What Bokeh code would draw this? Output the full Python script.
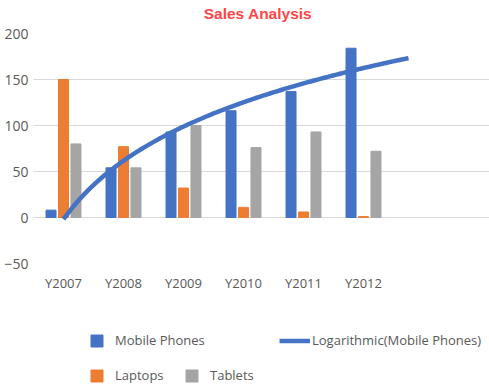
import numpy as np
from bokeh.plotting import figure
from bokeh.layouts import column
from bokeh.models import Legend, LegendItem, FixedTicker, Range1d, Label
from bokeh.embed import file_html
from bokeh.resources import INLINE

categories = ["Y2007", "Y2008", "Y2009", "Y2010", "Y2011", "Y2012"]
mobile_phones = [8, 54, 93, 116, 137, 184]
laptops = [150, 77, 32, 11, 6, 1]
tablets = [80, 54, 100, 76, 93, 72]
y_ticks = [-50, 0, 50, 100, 150, 200]

BLUE = "#4472C4"
ORANGE = "#ED7D31"
GRAY = "#A5A5A5"
TXT = "#595959"

LEFT = 33
FW = 489 - LEFT
TOP_PAD = 10
xs = np.arange(1, len(categories) + 1)


def bare_fig(h):
    f = figure(frame_width=FW, frame_height=h, output_backend="svg", toolbar_location=None,
               x_range=Range1d(LEFT, LEFT + FW), y_range=Range1d(0, h),
               x_axis_location=None, y_axis_location=None,
               min_border_left=LEFT, min_border_right=0, min_border_top=0,
               min_border_bottom=0)
    f.xgrid.visible = False
    f.ygrid.visible = False
    f.outline_line_color = None
    f.background_fill_color = "white"
    f.border_fill_color = "white"
    return f

# ---- title strip
H0 = 33 - TOP_PAD
p0 = bare_fig(H0)
p0.add_layout(Label(x=257.5, y=H0 - 12.5, text="Sales Analysis", text_align="center",
                    text_baseline="middle", text_color="#ff4545",
                    text_font="Liberation Sans", text_font_size="15.5px",
                    text_font_style="bold"))

# ---- main chart
p = figure(frame_width=FW, frame_height=230, output_backend="svg", toolbar_location=None,
           x_range=Range1d(0.5, 0.5 + FW / 60.0), y_range=Range1d(-50, 200),
           min_border_left=LEFT, min_border_right=0, min_border_top=TOP_PAD,
           min_border_bottom=40, title=None)
p.outline_line_color = None
p.background_fill_color = "white"
p.border_fill_color = "white"

bw = 0.1667
off = 0.208
p.vbar(x=xs - off, top=mobile_phones, width=bw, color=BLUE)
p.vbar(x=xs, top=laptops, width=bw, color=ORANGE)
p.vbar(x=xs + off, top=tablets, width=bw, color=GRAY)

# logarithmic trendline fitted to Mobile Phones (forecast 0.75 period forward)
lx = np.log(xs)
a, b = np.polyfit(lx, np.array(mobile_phones, dtype=float), 1)
tx = np.linspace(1, len(categories) + 0.75, 200)
ty = a * np.log(tx) + b
p.line(tx, ty, line_color=BLUE, line_width=4.5)

p.xgrid.visible = False
p.ygrid.grid_line_color = "#d9d9d9"
p.ygrid.grid_line_width = 1
p.ygrid.ticker = FixedTicker(ticks=y_ticks)

for ax in (p.xaxis, p.yaxis):
    ax.axis_line_color = None
    ax.major_tick_line_color = None
    ax.minor_tick_line_color = None
    ax.major_tick_out = 0
    ax.major_tick_in = 0
    ax.minor_tick_out = 0
    ax.minor_tick_in = 0
    ax.major_label_text_font = "Open Sans"
    ax.major_label_text_color = TXT

p.yaxis.ticker = FixedTicker(ticks=y_ticks)
p.yaxis.major_label_standoff = 5
p.yaxis.major_label_text_font_size = "14px"

p.xaxis.ticker = FixedTicker(ticks=list(xs))
p.xaxis.major_label_overrides = {int(i): c for i, c in zip(xs, categories)}
p.xaxis.major_label_standoff = 10
p.xaxis.major_label_text_font_size = "13px"

# ---- legend strip
p2 = bare_fig(85)
nan = [np.nan]
d_m = p2.vbar(x=nan, top=nan, width=1, color=BLUE)
d_l = p2.vbar(x=nan, top=nan, width=1, color=ORANGE)
d_t = p2.vbar(x=nan, top=nan, width=1, color=GRAY)
d_tr = p2.line(x=nan, y=nan, line_color=BLUE, line_width=4.5)


def add_leg(label, rend, loc, gw, standoff):
    lg = Legend(items=[LegendItem(label=label, renderers=[rend])], location=loc,
                orientation="horizontal", glyph_width=gw, glyph_height=15,
                label_standoff=standoff, padding=0, margin=0, spacing=0,
                border_line_color=None, background_fill_alpha=0,
                label_text_font="Open Sans", label_text_font_size="13px",
                label_text_color=TXT)
    p2.add_layout(lg, "center")

add_leg("Mobile Phones", d_m, (89 - LEFT, 39), 15, 11)
add_leg("Logarithmic(Mobile Phones)", d_tr, (279 - LEFT, 39), 31, 2)
add_leg("Laptops", d_l, (89 - LEFT, 4), 15, 11)
add_leg("Tablets", d_t, (184 - LEFT, 4), 15, 11)

layout = column(p0, p, p2, spacing=0)
open("out.html", "w").write(file_html(layout, INLINE))
